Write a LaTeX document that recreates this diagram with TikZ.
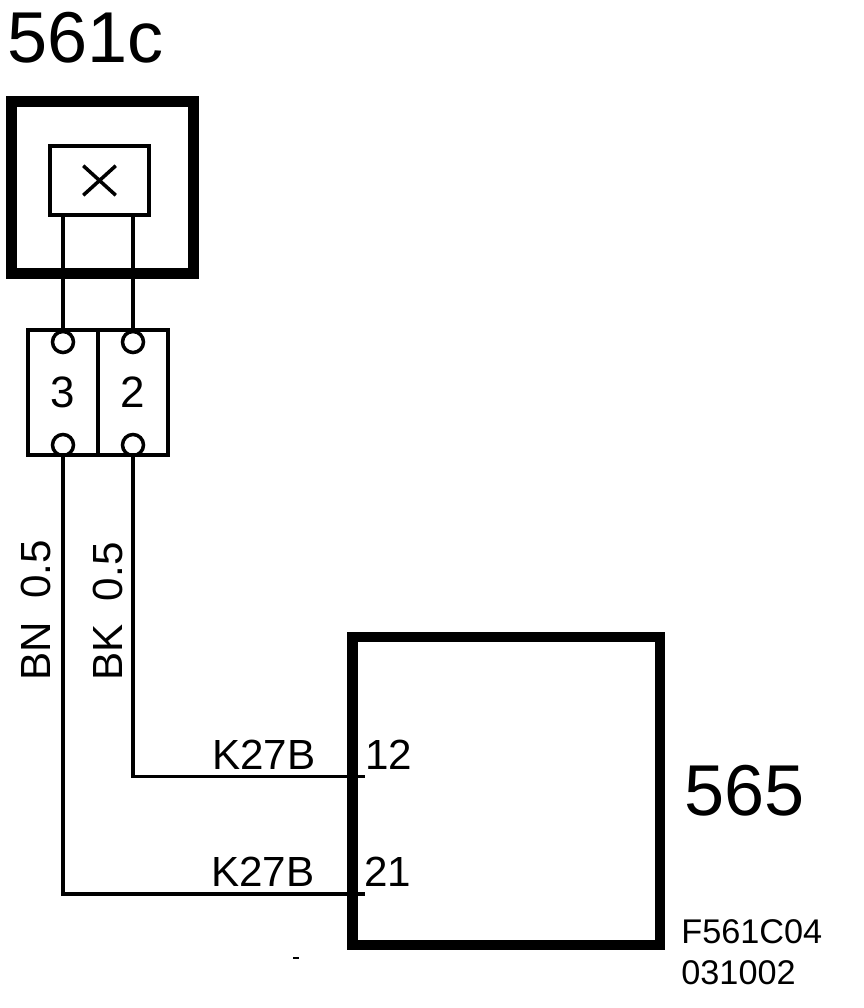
\documentclass[tikz,border=0pt]{standalone}
\usepackage{fontspec}
\setmainfont{Liberation Sans}
\usetikzlibrary{shapes.misc}

\begin{document}
\begin{tikzpicture}[
  x=0.02cm, y=-0.02cm,
  box/.style={rectangle,draw,inner sep=0pt,outer sep=0pt},
  heavy/.style={box,line width=6.2pt},
  term/.style={box,line width=2pt,minimum width=1.4cm,minimum height=2.5cm,font=\fontsize{25}{25}\selectfont},
  pad/.style={circle,draw,inner sep=0pt,outer sep=0pt,line width=2pt,minimum size=0.42cm},
  wire/.style={line width=2pt},
  lbl/.style={inner sep=0pt,anchor=base west,font=\fontsize{24}{24}\selectfont},
  title/.style={inner sep=0pt,anchor=base west,font=\fontsize{41}{41}\selectfont},
  code/.style={inner sep=0pt,anchor=base west,font=\fontsize{19.5}{19.5}\selectfont}
]

\useasboundingbox (0,0) rectangle (864,1008);

% 561c
\node[title] (name561) at (7,62) {561c};
\node[heavy,minimum width=3.64cm,minimum height=3.44cm] (unit561) at (102.5,187.5) {};
\node[box,line width=2pt,minimum width=1.98cm,minimum height=1.38cm] (sensor) at (99.5,180.5) {};
\node[cross out,draw,line width=2pt,inner sep=0pt,minimum width=0.58cm,minimum height=0.52cm] (mark) at (sensor.center) {};

% connector
\node[term] (term3) at (63,392.5) {3};
\node[term] (term2) at (133,392.5) {2};

\foreach \i in {3,2} {
  \node[pad] (top\i) at (term\i.north) [yshift=-0.24cm] {};
  \node[pad] (bot\i) at (term\i.south) [yshift=0.2cm] {};
  \draw[wire] (top\i) -- (top\i |- sensor.south);
}

% 565
\node[heavy,minimum width=6.15cm,minimum height=6.16cm] (unit565) at (506.25,791) {};
\node[title] (name565) at (684,815) {565};
\node[code] (code1) at (681,943) {F561C04};
\node[code] (code2) at (681,984) {031002};

\coordinate (pin12) at (365,776.5);
\coordinate (pin21) at (365,894);
\draw[wire] (bot2) |- (pin12);
\draw[wire] (bot3) |- (pin21);

\node[lbl] (k12) at (212,769) {K27B};
\node[lbl] (k21) at (211,886) {K27B};
\node[lbl] (num12) at (365,769) {12};
\node[lbl] (num21) at (364,886) {21};

\node[lbl,rotate=90] (bn) at (51,681) {BN\ \ 0.5};
\node[lbl,rotate=90] (bk) at (122,681) {BK\ \ 0.5};

\node[fill,inner sep=0pt,minimum width=0.12cm,minimum height=0.03cm] (speck) at (296,958) {};

\end{tikzpicture}
\end{document}
